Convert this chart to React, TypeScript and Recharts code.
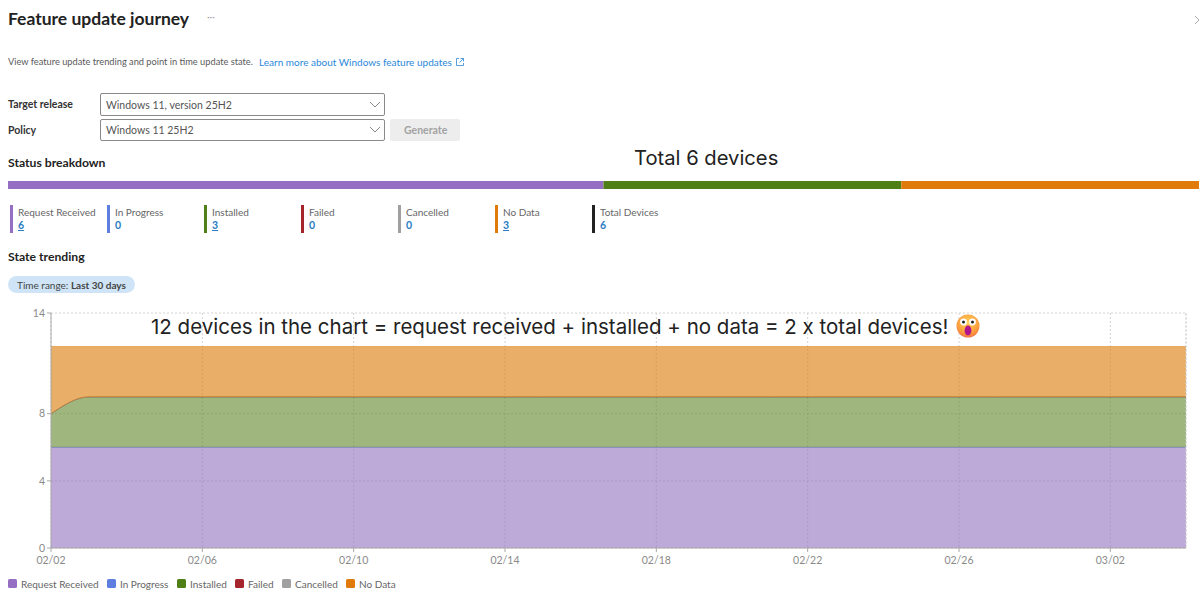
import { CSSProperties, ReactNode } from "react";
import {
  Area,
  AreaChart,
  Bar,
  BarChart,
  CartesianGrid,
  ReferenceLine,
  XAxis,
  YAxis,
} from "recharts";

const dates = [
  "02/02", "02/03", "02/04", "02/05", "02/06", "02/07", "02/08", "02/09",
  "02/10", "02/11", "02/12", "02/13", "02/14", "02/15", "02/16", "02/17",
  "02/18", "02/19", "02/20", "02/21", "02/22", "02/23", "02/24", "02/25",
  "02/26", "02/27", "02/28", "03/01", "03/02", "03/03", "03/04",
];
const requestReceived = [6, 6, 6, 6, 6, 6, 6, 6, 6, 6, 6, 6, 6, 6, 6, 6, 6, 6, 6, 6, 6, 6, 6, 6, 6, 6, 6, 6, 6, 6, 6];
const inProgress = [0, 0, 0, 0, 0, 0, 0, 0, 0, 0, 0, 0, 0, 0, 0, 0, 0, 0, 0, 0, 0, 0, 0, 0, 0, 0, 0, 0, 0, 0, 0];
const installed = [2, 3, 3, 3, 3, 3, 3, 3, 3, 3, 3, 3, 3, 3, 3, 3, 3, 3, 3, 3, 3, 3, 3, 3, 3, 3, 3, 3, 3, 3, 3];
const failed = [0, 0, 0, 0, 0, 0, 0, 0, 0, 0, 0, 0, 0, 0, 0, 0, 0, 0, 0, 0, 0, 0, 0, 0, 0, 0, 0, 0, 0, 0, 0];
const cancelled = [0, 0, 0, 0, 0, 0, 0, 0, 0, 0, 0, 0, 0, 0, 0, 0, 0, 0, 0, 0, 0, 0, 0, 0, 0, 0, 0, 0, 0, 0, 0];
const noData = [4, 3, 3, 3, 3, 3, 3, 3, 3, 3, 3, 3, 3, 3, 3, 3, 3, 3, 3, 3, 3, 3, 3, 3, 3, 3, 3, 3, 3, 3, 3];
const yTicks = [0, 4, 8, 14];

const statusNames = ["Request Received", "In Progress", "Installed", "Failed", "Cancelled", "No Data"];
const statusCounts = [6, 0, 3, 0, 0, 3];
const statusColors = ["#9570C2", "#5F7FE0", "#4F7F17", "#A4262C", "#A0A0A0", "#E07A0A"];
const areaFills = ["#9576C0", "#5F7FE0", "#648A30", "#A4262C", "#A0A0A0", "#DC7C0C"];
const seriesValues = [requestReceived, inProgress, installed, failed, cancelled, noData];
const totalDevices = 6;

const trendData = dates.map((date, i) => {
  const row: Record<string, string | number> = { date };
  statusNames.forEach((name, s) => {
    row[name] = seriesValues[s][i];
  });
  return row;
});
const breakdownData = [
  Object.fromEntries([["label", "Status"], ...statusNames.map((n, s) => [n, statusCounts[s]])]),
];

const legendSwatchX = [8, 107, 177, 235, 282, 346];
const uiFont = 'Lato, "Noto Sans", sans-serif';
const noteFont = 'Inter, "Noto Sans", sans-serif';

function Txt({ x, y, size = 10.5, color = "#5a5a5a", weight = 400, font = uiFont, style, children }: {
  x: number;
  y: number;
  size?: number;
  color?: string;
  weight?: number;
  font?: string;
  style?: CSSProperties;
  children: ReactNode;
}) {
  return (
    <div
      style={{
        position: "absolute",
        left: x,
        top: y - 10,
        height: 20,
        lineHeight: "20px",
        fontSize: size,
        color,
        fontWeight: weight,
        fontFamily: font,
        whiteSpace: "nowrap",
        ...style,
      }}
    >
      {children}
    </div>
  );
}

function Select({ y, height, label }: { y: number; height: number; label: string }) {
  return (
    <div style={{ position: "absolute", left: 100, top: y, width: 285, height, border: "1px solid #8a8a8a", borderRadius: 2, boxSizing: "border-box" }}>
      <Txt x={5} y={height / 2 - 1} color="#555">{label}</Txt>
      <svg width={12} height={7} style={{ position: "absolute", right: 3, top: height / 2 - 5 }}>
        <path d="M1 1 L6 6 L11 1" fill="none" stroke="#888" strokeWidth={1} />
      </svg>
    </div>
  );
}

function Kpi({ x, label, value, color, link }: { x: number; label: string; value: number; color: string; link: boolean }) {
  return (
    <>
      <div style={{ position: "absolute", left: x, top: 205, width: 2.5, height: 28, background: color }} />
      <Txt x={x + 8} y={212} size={10} color="#666">{label}</Txt>
      <Txt x={x + 8} y={225} color="#2B7CC4" weight={700} style={{ textDecoration: link ? "underline" : "none" }}>{value}</Txt>
    </>
  );
}

function ShockedFace() {
  return (
    <svg width={24} height={24} viewBox="0 0 24 24" style={{ position: "absolute", left: 956, top: 314 }}>
      <defs>
        <radialGradient id="faceFill" cx="50%" cy="35%" r="70%">
          <stop offset="0%" stopColor="#FFD25A" />
          <stop offset="70%" stopColor="#FB9A3C" />
          <stop offset="100%" stopColor="#EE6A4A" />
        </radialGradient>
      </defs>
      <circle cx={12} cy={12} r={11.5} fill="url(#faceFill)" />
      <circle cx={7.5} cy={8} r={3.4} fill="#fff" />
      <circle cx={16.5} cy={8} r={3.4} fill="#fff" />
      <circle cx={7.5} cy={8} r={1.5} fill="#222" />
      <circle cx={16.5} cy={8} r={1.5} fill="#222" />
      <ellipse cx={12} cy={16.5} rx={3.4} ry={5} fill="#B0148C" />
    </svg>
  );
}

export default function App() {
  return (
    <div style={{ position: "absolute", left: 0, top: 0, width: 1199, height: 604, background: "#fff", overflow: "hidden" }}>
      <Txt x={8} y={19} size={17.5} color="#222" weight={700}>Feature update journey</Txt>
      <Txt x={207} y={16} size={10} color="#999">···</Txt>
      <Txt x={8} y={62} size={9.25}>View feature update trending and point in time update state.</Txt>
      <Txt x={259} y={62} size={10} color="#2B88D8">Learn more about Windows feature updates</Txt>
      <svg width={8} height={8} style={{ position: "absolute", left: 456, top: 58 }}>
        <path d="M3 .5 H.5 V7.5 H7.5 V5 M4.5 .5 H7.5 V3.5 M7.5 .5 L3.5 4.5" fill="none" stroke="#2B88D8" strokeWidth={0.8} />
      </svg>
      <svg width={6} height={10} style={{ position: "absolute", left: 1194, top: 15 }}>
        <path d="M1 1 L6 6 M1 9 L6 4" fill="none" stroke="#999" strokeWidth={0.8} />
      </svg>

      <Txt x={8} y={104} size={10.5} color="#333" weight={700}>Target release</Txt>
      <Txt x={8} y={130} size={10.5} color="#333" weight={700}>Policy</Txt>
      <Select y={93} height={23} label="Windows 11, version 25H2" />
      <Select y={119} height={22} label="Windows 11 25H2" />
      <div style={{ position: "absolute", left: 390, top: 119, width: 70, height: 22, background: "#EDEDED", borderRadius: 2 }}>
        <Txt x={14} y={11} size={10.5} color="#A3A3A3" weight={700}>Generate</Txt>
      </div>

      <Txt x={8} y={163} size={12.2} color="#222" weight={700}>Status breakdown</Txt>
      <Txt x={634} y={158} size={20.2} color="#222" font={noteFont}>Total 6 devices</Txt>

      <div style={{ position: "absolute", left: 8, top: 181 }}>
        <BarChart
          width={1191}
          height={8}
          layout="vertical"
          data={breakdownData}
          margin={{ top: 0, right: 0, bottom: 0, left: 0 }}
          barCategoryGap={0}
        >
          <XAxis type="number" domain={[0, 12]} hide />
          <YAxis type="category" dataKey="label" hide />
          {statusNames.map((name, s) => (
            <Bar key={name} dataKey={name} stackId="status" fill={statusColors[s]} isAnimationActive={false} />
          ))}
        </BarChart>
      </div>

      {statusNames.map((name, s) => (
        <Kpi key={name} x={10 + s * 97} label={name} value={statusCounts[s]} color={statusColors[s]} link={statusCounts[s] > 0} />
      ))}
      <Kpi x={592} label="Total Devices" value={totalDevices} color="#222" link={false} />

      <Txt x={8} y={257} size={12.2} color="#222" weight={700}>State trending</Txt>
      <div style={{ position: "absolute", left: 8, top: 276, width: 127, height: 17, borderRadius: 9, background: "#CFE4F6" }}>
        <Txt x={9} y={8.5} size={10} color="#444">
          Time range: <span style={{ fontWeight: 700 }}>Last 30 days</span>
        </Txt>
      </div>

      <div style={{ position: "absolute", left: 0, top: 300 }}>
        <AreaChart
          width={1199}
          height={290}
          data={trendData}
          margin={{ top: 13, right: 13, bottom: 12, left: 0 }}
        >
          <CartesianGrid stroke="#D4D4D4" strokeDasharray="2 2" />
          <XAxis
            dataKey="date"
            interval={3}
            stroke="#A8A8A8"
            tickSize={4}
            tickMargin={5}
            tick={{ fontSize: 10.5, fill: "#8A8A8A", fontFamily: uiFont }}
            height={30}
          />
          <YAxis
            type="number"
            domain={[0, 14]}
            ticks={yTicks}
            width={51}
            stroke="#A8A8A8"
            tickSize={4}
            tick={{ fontSize: 10.5, fill: "#8A8A8A", fontFamily: uiFont }}
          />
          {statusNames.map((name, s) => (
            <Area
              key={name}
              type="monotone"
              dataKey={name}
              stackId="trend"
              stroke={statusColors[s]}
              strokeWidth={1}
              strokeOpacity={0.5}
              fill={areaFills[s]}
              fillOpacity={0.62}
              isAnimationActive={false}
              dot={false}
              activeDot={false}
            />
          ))}
          <ReferenceLine x="03/04" stroke="#D4D4D4" strokeDasharray="2 2" />
        </AreaChart>
      </div>

      <Txt x={151} y={327} size={20.5} color="#222" font={noteFont}>
        12 devices in the chart = request received + installed + no data = 2 x total devices!
      </Txt>
      <ShockedFace />

      {statusNames.map((name, s) => (
        <div key={name}>
          <div style={{ position: "absolute", left: legendSwatchX[s], top: 579, width: 9, height: 9, borderRadius: 1.5, background: statusColors[s] }} />
          <Txt x={legendSwatchX[s] + 13} y={583.5} size={10} color="#666">{name}</Txt>
        </div>
      ))}
    </div>
  );
}
